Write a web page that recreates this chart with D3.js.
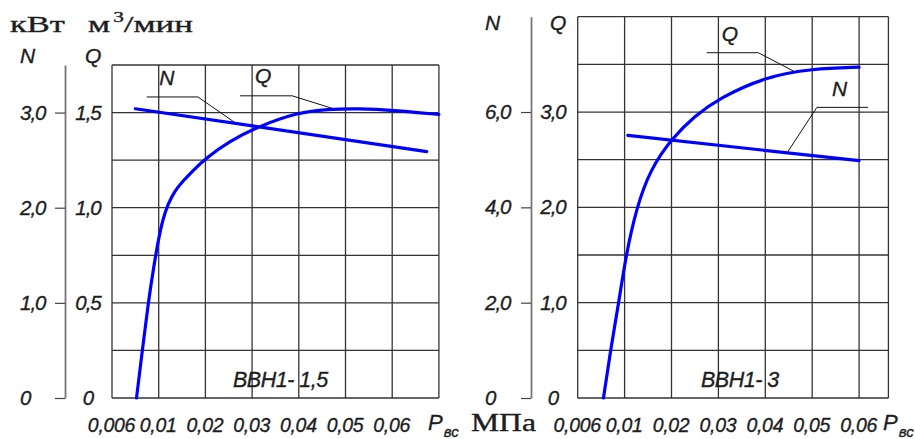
<!DOCTYPE html>
<html><head><meta charset="utf-8">
<script src="https://cdn.jsdelivr.net/npm/d3@7/dist/d3.min.js"></script>
<style>body{margin:0;background:#fff}svg{display:block}</style>
</head><body>
<svg id="c" width="915" height="439"></svg>
<script>
// ---------- data ----------
const pTicks = [0.006, 0.01, 0.02, 0.03, 0.04, 0.05, 0.06, 0.07];
const pTickLabels = ["0,006", "0,01", "0,02", "0,03", "0,04", "0,05", "0,06", ""];

// left panel: ВВН1-1,5
const leftTitle = "ВВН1- 1,5";
const leftQP = [0.0081, 0.0086, 0.0091, 0.0096, 0.0100, 0.0109, 0.0120, 0.0135, 0.0150, 0.0174, 0.0200, 0.0250, 0.0313, 0.0400, 0.0460, 0.0530, 0.0600, 0.0700];
const leftQ  = [0, 0.25, 0.50, 0.70, 0.84, 0.94, 1.02, 1.09, 1.135, 1.197, 1.258, 1.347, 1.427, 1.502, 1.518, 1.521, 1.513, 1.49];
const leftNP = [0.0080, 0.0674];
const leftN  = [3.04, 2.59];
const leftQTicks = [0, 0.5, 1.0, 1.5];
const leftNTicks = [0, 1.0, 2.0, 3.0];
const leftQGrid = [0, 0.25, 0.5, 0.75, 1.0, 1.25, 1.5, 1.75];
const leftPEnd = 0.07;
// leader annotations (data units P, Q)
const leftNLeader = [[0.00897, 1.582], [0.0184, 1.582], [0.0264, 1.446]];
const leftQLeader = [[0.0274, 1.588], [0.0386, 1.588], [0.0473, 1.521]];
const leftNLabel = [0.0101, 1.644];
const leftQLabel = [0.0306, 1.654];

// right panel: ВВН1-3
const rightTitle = "ВВН1- 3";
const rightQP = [0.0082, 0.0088, 0.0095, 0.0103, 0.0125, 0.0155, 0.0200, 0.0250, 0.0300, 0.0400, 0.0500, 0.0600];
const rightQ  = [0, 0.5, 1.0, 1.5, 1.99, 2.40, 2.72, 2.96, 3.14, 3.37, 3.455, 3.47];
const rightNP = [0.0107, 0.0600];
const rightN  = [5.51, 4.98];
const rightQTicks = [0, 1.0, 2.0, 3.0];
const rightNTicks = [0, 2.0, 4.0, 6.0];
const rightQGrid = [0, 0.5, 1.0, 1.5, 2.0, 2.5, 3.0, 3.5, 4.0];
const rightPEnd = 0.06625;
const rightQLeader = [[0.0275, 3.622], [0.0385, 3.622], [0.0460, 3.43]];
const rightNLeader = [[0.0619, 3.049], [0.0510, 3.049], [0.0448, 2.584]];
const rightQLabel = [0.0307, 3.745];
const rightNLabel = [0.0542, 3.168];

// ---------- drawing ----------
const svg = d3.select("#c");
const SANS = "'Liberation Sans', Arial, sans-serif";
const SERIF = "'Liberation Serif', 'Times New Roman', serif";
const fmt = v => v === 0 ? "0" : d3.format(".1f")(v).replace(".", ",");
const BLUE = "#0000ff";
const INK = "#1e1e1e";
const bold = sel => sel.attr("stroke", INK).attr("stroke-width", 0.35);

const panels = [
  {title: leftTitle, qp: leftQP, q: leftQ, np: leftNP, n: leftN, qTicks: leftQTicks, nTicks: leftNTicks,
   qGrid: leftQGrid, pEnd: leftPEnd, qMax: 1.75, nLeader: leftNLeader, qLeader: leftQLeader,
   nLabel: leftNLabel, qLabel: leftQLabel,
   x0: 112, step: 46.7, yTop: 65, nAxisX: 65, nLabelX: 20, qLabelX: 88,
   hdrY: 63, titleX: 233, pLabX: 428},
  {title: rightTitle, qp: rightQP, q: rightQ, np: rightNP, n: rightN, qTicks: rightQTicks, nTicks: rightNTicks,
   qGrid: rightQGrid, pEnd: rightPEnd, qMax: 4.0, nLeader: rightNLeader, qLeader: rightQLeader,
   nLabel: rightNLabel, qLabel: rightQLabel,
   x0: 577.7, step: 46.9, yTop: 16.7, nAxisX: 531, nLabelX: 485, qLabelX: 553,
   hdrY: 30, titleX: 701, pLabX: 883}
];

const yBottom = 398;

panels.forEach(P => {
  const g = svg.append("g");
  const x = d3.scaleLinear().domain(pTicks).range(pTicks.map((d, i) => P.x0 + i * P.step));
  const yq = d3.scaleLinear().domain([0, P.qMax]).range([yBottom, P.yTop]);
  const yn = d3.scaleLinear().domain([0, 2 * P.qMax]).range([yBottom, P.yTop]);
  const xL = x(pTicks[0]), xR = x(P.pEnd);

  // grid
  const grid = g.append("g").attr("stroke", "#333").attr("stroke-width", 1.3);
  grid.selectAll("line.h").data(P.qGrid).join("line")
    .attr("x1", xL).attr("x2", xR).attr("y1", d => yq(d)).attr("y2", d => yq(d));
  const vx = pTicks.filter(p => p <= P.pEnd + 1e-9);
  if (vx[vx.length - 1] < P.pEnd - 1e-9) vx.push(P.pEnd);
  grid.selectAll("line.v").data(vx).join("line")
    .attr("x1", d => x(d)).attr("x2", d => x(d)).attr("y1", yq(0)).attr("y2", yq(P.qMax));

  // N axis
  const nAx = g.append("g").attr("transform", `translate(${P.nAxisX},0)`)
    .call(d3.axisLeft(yn).tickValues(P.nTicks).tickSize(10).tickSizeOuter(0).tickFormat(fmt));
  nAx.select(".domain").attr("stroke", "#777").attr("stroke-width", 1.8);
  nAx.selectAll(".tick line").attr("stroke", "#444").attr("stroke-width", 1.2);
  nAx.selectAll(".tick text").attr("x", P.nLabelX - P.nAxisX).attr("text-anchor", "start")
    .attr("font-family", SANS).attr("font-style", "italic").attr("font-size", 20.5)
    .attr("letter-spacing", -1).attr("fill", INK).call(bold);

  // Q axis labels
  const qAx = g.append("g").attr("transform", `translate(${P.x0},0)`)
    .call(d3.axisLeft(yq).tickValues(P.qTicks).tickSize(0).tickFormat(fmt));
  qAx.select(".domain").remove();
  qAx.selectAll(".tick text").attr("x", P.qLabelX - P.x0).attr("text-anchor", "middle")
    .attr("font-family", SANS).attr("font-style", "italic").attr("font-size", 20.5)
    .attr("letter-spacing", -1).attr("fill", INK).call(bold);

  // P axis labels
  const pAx = g.append("g").attr("transform", `translate(0,${yBottom})`)
    .call(d3.axisBottom(x).tickValues(pTicks.filter(p => p <= P.pEnd)).tickSize(0)
      .tickFormat(d => pTickLabels[pTicks.indexOf(d)]));
  pAx.select(".domain").remove();
  pAx.selectAll(".tick text").attr("y", 34).attr("dy", 0).attr("dx", -1)
    .attr("font-family", SANS).attr("font-style", "italic").attr("font-size", 19.5)
    .attr("letter-spacing", -0.3).attr("fill", INK).call(bold);

  // headers N, Q
  g.append("text").attr("x", P.nLabelX).attr("y", P.hdrY).text("N")
    .attr("font-family", SANS).attr("font-style", "italic").attr("font-size", 21).attr("fill", INK).call(bold);
  g.append("text").attr("x", P.qLabelX - 3).attr("y", P.hdrY).text("Q")
    .attr("font-family", SANS).attr("font-style", "italic").attr("font-size", 21).attr("fill", INK).call(bold);

  // title
  g.append("text").attr("x", P.titleX).attr("y", 387).text(P.title)
    .attr("font-family", SANS).attr("font-style", "italic").attr("font-size", 21.5)
    .attr("letter-spacing", -0.5).attr("fill", INK).call(bold);

  // P_вс
  const pt = g.append("text").attr("x", P.pLabX).attr("y", 430)
    .attr("font-family", SANS).attr("font-style", "italic").attr("fill", INK).call(bold);
  pt.append("tspan").attr("font-size", 22).text("P");
  pt.append("tspan").attr("font-size", 15).attr("dy", 7).attr("dx", 1).text("вс");

  // leaders
  const leaderLine = d3.line().x(d => x(d[0])).y(d => yq(d[1]));
  [P.nLeader, P.qLeader].forEach(L => {
    g.append("path").attr("d", leaderLine(L)).attr("fill", "none")
      .attr("stroke", "#111").attr("stroke-width", 1);
  });
  g.append("text").attr("x", x(P.nLabel[0])).attr("y", yq(P.nLabel[1])).text("N")
    .attr("font-family", SANS).attr("font-style", "italic").attr("font-size", 21).attr("fill", INK).call(bold);
  g.append("text").attr("x", x(P.qLabel[0])).attr("y", yq(P.qLabel[1])).text("Q")
    .attr("font-family", SANS).attr("font-style", "italic").attr("font-size", 21).attr("fill", INK).call(bold);

  // curves
  const qLine = d3.line().x(d => x(d[0])).y(d => yq(d[1])).curve(d3.curveBasis);
  const nLine = d3.line().x(d => x(d[0])).y(d => yn(d[1]));
  g.append("path").attr("d", nLine(P.np.map((p, i) => [p, P.n[i]])))
    .attr("fill", "none").attr("stroke", BLUE).attr("stroke-width", 3.2).attr("stroke-linecap", "round");
  g.append("path").attr("d", qLine(P.qp.map((p, i) => [p, P.q[i]])))
    .attr("fill", "none").attr("stroke", BLUE).attr("stroke-width", 3.2).attr("stroke-linecap", "round");
});

// unit labels (serif)
svg.append("text").attr("x", 10).attr("y", 32).attr("font-family", SERIF).attr("font-size", 23)
  .attr("textLength", 55).attr("lengthAdjust", "spacingAndGlyphs").attr("fill", INK).call(bold).text("кВт");
const mt = svg.append("text").attr("x", 88).attr("y", 32).attr("font-family", SERIF).attr("font-size", 23)
  .attr("textLength", 105).attr("lengthAdjust", "spacingAndGlyphs").attr("fill", INK).call(bold);
mt.append("tspan").text("м");
mt.append("tspan").attr("font-size", 14).attr("dy", -10).attr("dx", 2).text("3");
mt.append("tspan").attr("dy", 10).text("/мин");
svg.append("text").attr("x", 471).attr("y", 431).attr("font-family", SERIF).attr("font-size", 25)
  .attr("textLength", 65).attr("lengthAdjust", "spacingAndGlyphs").attr("fill", INK).call(bold).text("МПа");
</script>
</body></html>
